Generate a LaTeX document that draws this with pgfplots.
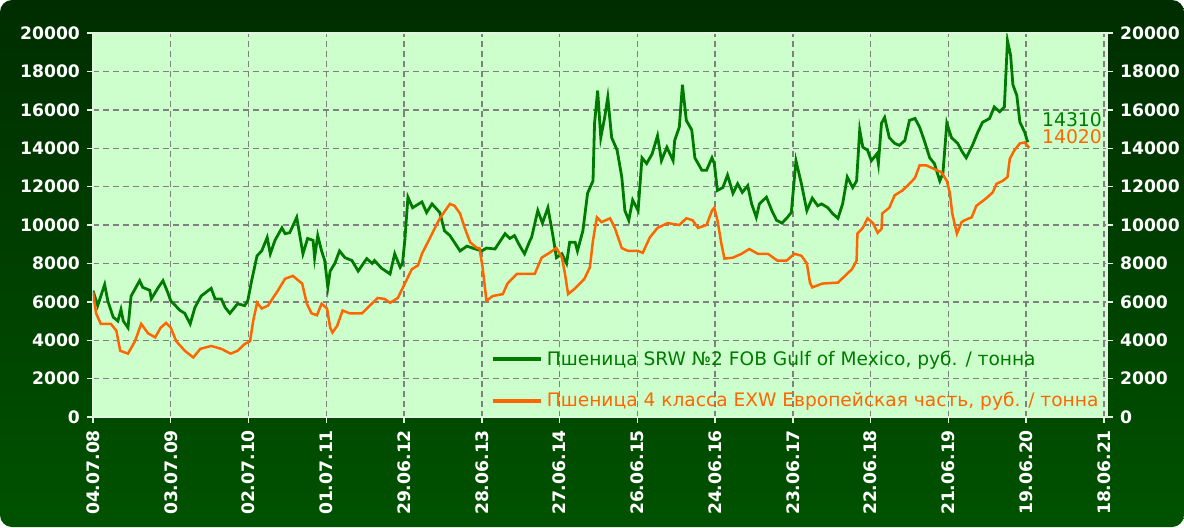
\documentclass[border=0pt]{standalone}
\usepackage{pgfplots}
\pgfplotsset{compat=1.18}
\usepackage{fontspec}
\setmainfont{DejaVu Sans}
\definecolor{bgtop}{RGB}{0,45,0}
\definecolor{bgmid}{RGB}{0,118,0}
\definecolor{bgbot}{RGB}{0,82,0}
\definecolor{plotbg}{RGB}{204,255,204}
\definecolor{gline}{RGB}{0,122,0}
\definecolor{oline}{RGB}{255,102,0}
\definecolor{gridc}{RGB}{128,128,128}
\definecolor{axc}{RGB}{225,245,225}
\begin{document}
\begin{tikzpicture}
\useasboundingbox (0,0) rectangle (592pt,263.5pt);
\shade[top color=bgtop, middle color=bgmid, bottom color=bgbot, rounded corners=6pt] (0,0) rectangle (592pt,263.5pt);
\begin{axis}[
  at={(46.5pt,55pt)}, anchor=south west,
  width=507pt, height=192pt, scale only axis,
  xmin=0, xmax=13.04, ymin=0, ymax=20000,
  scaled y ticks=false, scaled x ticks=false,
  xtick={0,1,...,13},
  xticklabels={04.07.08,03.07.09,02.07.10,01.07.11,29.06.12,28.06.13,27.06.14,26.06.15,24.06.16,23.06.17,22.06.18,21.06.19,19.06.20,18.06.21},
  ytick={0,2000,...,20000},
  yticklabels={0,2000,4000,6000,8000,10000,12000,14000,16000,18000,20000},
  xtick pos=bottom, ytick pos=left,
  tick align=outside, major tick length=3pt,
  tick style={axc, line width=0.7pt},
  axis line style={axc, line width=0.9pt},
  grid=major,
  grid style={gridc, line width=0.7pt, dash pattern=on 3pt off 2pt},
  ticklabel style={font=\bfseries\fontsize{8.6}{10}\selectfont, white},
  xticklabel style={rotate=90, anchor=east},
  axis background/.style={fill=plotbg},
  legend style={at={(0.392,0.096)}, anchor=west, draw=none, fill=none,
    font=\fontsize{9.3}{10}\selectfont, row sep=8pt, inner sep=0pt},
  legend cell align=left,
  legend image code/.code={\draw[#1, line width=2pt] (0pt,0pt) -- (24pt,0pt);},
]
\addplot[gline, line width=1.4pt] coordinates {
(0.00,6580) (0.06,5800) (0.15,6900) (0.19,6050) (0.26,5200) (0.32,5000) (0.36,5600) (0.39,5000) (0.45,4650) (0.49,6300)
(0.60,7100) (0.64,6750) (0.73,6600) (0.75,6150) (0.84,6750) (0.90,7100) (0.96,6500) (1.00,6050) (1.12,5550) (1.18,5400)
(1.25,4850) (1.31,5700) (1.39,6300) (1.52,6700) (1.57,6150) (1.65,6150) (1.70,5700) (1.76,5400) (1.86,5900) (1.95,5800)
(1.99,6050) (2.04,7100) (2.11,8400) (2.17,8650) (2.24,9350) (2.28,8500) (2.34,9200) (2.43,9850) (2.47,9550) (2.53,9600)
(2.62,10400) (2.66,9450) (2.70,8500) (2.76,9300) (2.83,9200) (2.85,8300) (2.89,9450) (2.94,8650) (2.98,8150) (3.02,6750)
(3.05,7600) (3.11,8000) (3.17,8650) (3.24,8300) (3.33,8150) (3.41,7600) (3.52,8250) (3.59,8000) (3.62,8150) (3.71,7750)
(3.82,7450) (3.88,8500) (3.95,7800) (3.98,8000) (4.01,9200) (4.05,11450) (4.11,10900) (4.23,11200) (4.29,10650) (4.36,11100)
(4.46,10650) (4.52,9700) (4.59,9450) (4.68,8900) (4.72,8650) (4.81,8900) (4.88,8800) (5.00,8650) (5.06,8800) (5.17,8750)
(5.21,9000) (5.30,9550) (5.36,9300) (5.42,9450) (5.49,8900) (5.55,8500) (5.62,9200) (5.64,9350) (5.72,10750) (5.78,10100)
(5.85,10900) (5.91,9550) (5.96,8300) (6.03,8500) (6.09,8000) (6.13,9100) (6.20,9100) (6.23,8650) (6.30,9700) (6.36,11650)
(6.43,12300) (6.45,15300) (6.49,17000) (6.53,14550) (6.58,15600) (6.62,16650) (6.67,14550) (6.74,13900) (6.80,12500) (6.84,10750)
(6.89,10250) (6.94,11300) (7.01,10750) (7.06,13500) (7.12,13200) (7.19,13700) (7.26,14650) (7.31,13350) (7.38,14050) (7.46,13350)
(7.48,14400) (7.54,15100) (7.58,17300) (7.63,15450) (7.70,14950) (7.74,13500) (7.83,12850) (7.89,12850) (7.96,13500) (7.99,13200)
(8.03,11800) (8.10,11950) (8.16,12600) (8.23,11650) (8.29,12150) (8.35,11700) (8.42,12050) (8.47,11100) (8.53,10400) (8.57,11100)
(8.66,11450) (8.73,10750) (8.79,10250) (8.86,10100) (8.92,10350) (8.98,10650) (9.04,13350) (9.11,12150) (9.18,10750) (9.25,11400)
(9.32,11000) (9.37,11100) (9.45,10900) (9.51,10600) (9.58,10350) (9.64,11100) (9.70,12500) (9.77,11950) (9.82,12300) (9.86,14950)
(9.90,14050) (9.96,13900) (10.01,13350) (10.08,13700) (10.10,13200) (10.14,15300) (10.18,15600) (10.24,14550) (10.31,14250) (10.37,14150)
(10.44,14400) (10.50,15450) (10.57,15550) (10.63,15100) (10.69,14400) (10.76,13500) (10.82,13200) (10.89,12300) (10.93,12700) (10.98,15300)
(11.04,14550) (11.12,14250) (11.18,13800) (11.23,13500) (11.31,14150) (11.38,14850) (11.44,15350) (11.53,15550) (11.59,16150) (11.66,15900)
(11.72,16150) (11.76,19600) (11.80,18850) (11.83,17300) (11.88,16750) (11.92,15350) (11.98,14850) (12.02,14310)
};
\addlegendentry{\textcolor{gline}{Пшеница SRW №2 FOB Gulf of Mexico, руб. / тонна}}
\addplot[oline, line width=1.25pt] coordinates {
(0.00,6500) (0.04,5400) (0.10,4850) (0.23,4850) (0.30,4500) (0.35,3450) (0.45,3300) (0.54,3950) (0.62,4850) (0.71,4350)
(0.80,4150) (0.87,4650) (0.94,4900) (1.00,4650) (1.07,3950) (1.18,3450) (1.29,3100) (1.38,3550) (1.52,3700) (1.65,3550)
(1.77,3300) (1.86,3450) (1.95,3800) (2.02,3950) (2.06,5000) (2.11,5950) (2.17,5650) (2.25,5800) (2.38,6600) (2.47,7200)
(2.57,7350) (2.69,6950) (2.75,5900) (2.81,5400) (2.88,5300) (2.94,5900) (3.01,5650) (3.05,4650) (3.08,4400) (3.14,4750)
(3.21,5550) (3.30,5400) (3.46,5400) (3.56,5800) (3.66,6200) (3.75,6150) (3.82,5950) (3.92,6200) (4.01,6950) (4.10,7700)
(4.18,7900) (4.23,8500) (4.33,9300) (4.46,10350) (4.59,11100) (4.65,11000) (4.72,10600) (4.78,9850) (4.85,9100) (4.94,8800)
(4.97,8800) (5.01,7800) (5.06,6050) (5.14,6300) (5.27,6400) (5.33,6950) (5.45,7450) (5.68,7450) (5.77,8300) (5.87,8550)
(5.96,8800) (6.03,8300) (6.07,7450) (6.11,6400) (6.20,6700) (6.32,7200) (6.39,7800) (6.43,9200) (6.48,10400) (6.54,10150)
(6.65,10350) (6.71,9850) (6.80,8800) (6.88,8650) (7.01,8650) (7.07,8550) (7.16,9350) (7.26,9850) (7.39,10100) (7.54,10000)
(7.63,10350) (7.71,10250) (7.78,9850) (7.89,10000) (7.96,10750) (7.99,10900) (8.03,10250) (8.08,9050) (8.12,8250) (8.23,8300)
(8.34,8500) (8.44,8750) (8.55,8500) (8.68,8500) (8.80,8150) (8.92,8150) (9.02,8500) (9.11,8400) (9.18,8000) (9.22,7000)
(9.25,6750) (9.38,6950) (9.58,7000) (9.67,7350) (9.76,7700) (9.82,8150) (9.83,9550) (9.90,9850) (9.96,10350) (10.03,10100)
(10.09,9600) (10.14,9800) (10.15,10600) (10.24,10900) (10.31,11550) (10.41,11800) (10.50,12150) (10.57,12450) (10.63,13100) (10.72,13100)
(10.80,12950) (10.91,12750) (10.98,12300) (11.02,11650) (11.05,10600) (11.11,9550) (11.17,10150) (11.21,10250) (11.30,10400) (11.36,11000)
(11.49,11400) (11.57,11700) (11.62,12150) (11.70,12300) (11.76,12500) (11.79,13450) (11.85,13900) (11.92,14250) (11.98,14300) (12.04,14020)
};
\addlegendentry{\textcolor{oline}{Пшеница 4 класса EXW Европейская часть, руб. / тонна}}
\node[anchor=west, text=gline, font=\fontsize{9.4}{10}\selectfont, inner sep=0pt] at (axis cs:12.2,15470) {14310};
\node[anchor=west, text=oline, font=\fontsize{9.4}{10}\selectfont, inner sep=0pt] at (axis cs:12.2,14580) {14020};
\end{axis}
\begin{axis}[
  at={(46.5pt,55pt)}, anchor=south west,
  width=507pt, height=192pt, scale only axis,
  xmin=0, xmax=13.04, ymin=0, ymax=20000,
  scaled y ticks=false,
  axis x line=none, axis y line*=right,
  ytick={0,2000,...,20000},
  yticklabels={0,2000,4000,6000,8000,10000,12000,14000,16000,18000,20000},
  tick align=outside, major tick length=3pt,
  tick style={axc, line width=0.7pt},
  axis line style={axc, line width=0.9pt},
  ticklabel style={font=\bfseries\fontsize{8.6}{10}\selectfont, white},
]
\addplot[draw=none] coordinates {(0,0)};
\end{axis}
\end{tikzpicture}
\end{document}
